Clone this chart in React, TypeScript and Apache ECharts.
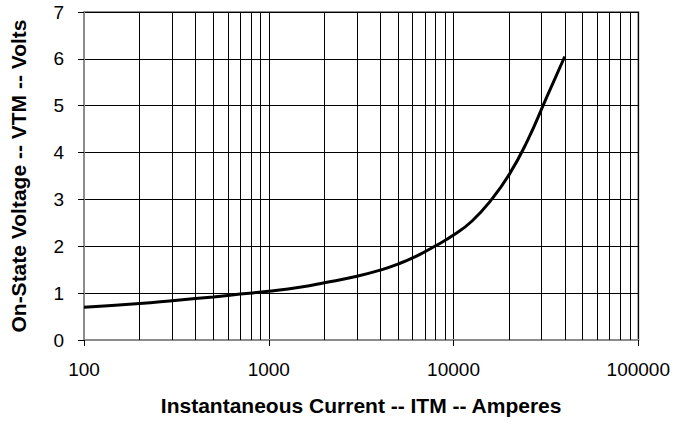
import React, { useEffect, useRef } from "react";
import * as echarts from "echarts";

const currentA = [100, 200, 300, 500, 700, 1000, 1500, 2000, 3000, 4000, 5000, 6300, 8000, 10000, 12600, 15850, 20000, 25100, 31600, 40000];
const voltageV = [0.7, 0.78, 0.84, 0.92, 0.98, 1.04, 1.13, 1.22, 1.36, 1.49, 1.62, 1.79, 2.01, 2.24, 2.54, 2.97, 3.53, 4.25, 5.14, 6.05];
const minorGridX = [200, 300, 400, 500, 600, 700, 800, 900, 2000, 3000, 4000, 5000, 6000, 7000, 8000, 9000, 20000, 30000, 40000, 50000, 60000, 70000, 80000, 90000];
const xTitle = "Instantaneous Current -- ITM -- Amperes";
const yTitle = "On-State Voltage -- VTM -- Volts";

const FONT = "Liberation Sans, Arial, sans-serif";

export default function App() {
  const ref = useRef<HTMLDivElement>(null);
  useEffect(() => {
    if (!ref.current) return;
    const chart = echarts.init(ref.current, undefined, { renderer: "svg" });
    chart.setOption({
      animation: false,
      backgroundColor: "#ffffff",
      grid: {
        left: 82,
        top: 12,
        right: 33,
        bottom: 85,
        show: true,
        borderColor: "#8c8c8c",
        borderWidth: 2,
      },
      xAxis: {
        type: "log",
        logBase: 10,
        min: 100,
        max: 100000,
        name: xTitle,
        nameLocation: "middle",
        nameGap: 55,
        nameTextStyle: { fontFamily: FONT, fontSize: 21, fontWeight: "bold", color: "#000" },
        axisLine: { show: true, lineStyle: { color: "#8c8c8c", width: 2 } },
        axisTick: { show: true, length: 6, lineStyle: { color: "#000", width: 1 } },
        axisLabel: { fontFamily: FONT, fontSize: 19, color: "#000", margin: 20, formatter: (v: number) => String(Math.round(v)) },
        splitLine: { show: true, lineStyle: { color: "#000", width: 1 } },
      },
      yAxis: {
        type: "value",
        min: 0,
        max: 7,
        interval: 1,
        name: yTitle,
        nameLocation: "middle",
        nameGap: 55,
        nameTextStyle: { fontFamily: FONT, fontSize: 21, fontWeight: "bold", color: "#000" },
        axisLine: { show: true, lineStyle: { color: "#8c8c8c", width: 2 } },
        axisTick: { show: true, length: 6, lineStyle: { color: "#000", width: 1 } },
        axisLabel: { fontFamily: FONT, fontSize: 19, color: "#000", margin: 20 },
        splitLine: { show: true, lineStyle: { color: "#000", width: 1 } },
      },
      series: [
        {
          type: "line",
          data: currentA.map((c, i) => [c, voltageV[i]]),
          showSymbol: false,
          smooth: 0.5,
          lineStyle: { color: "#000", width: 3 },
          z: 5,
          markLine: {
            silent: true,
            symbol: "none",
            label: { show: false },
            lineStyle: { color: "#000", width: 1, type: "solid" },
            data: minorGridX.map((v) => ({ xAxis: v })),
            z: 1,
          },
        },
      ],
    });
    return () => chart.dispose();
  }, []);
  return <div ref={ref} style={{ position: "fixed", left: 0, top: 0, width: 673, height: 425 }} />;
}
